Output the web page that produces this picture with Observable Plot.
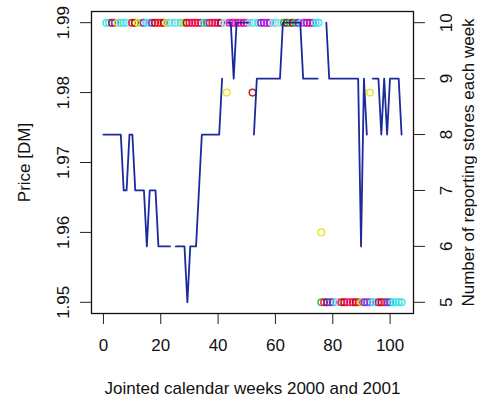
<!DOCTYPE html>
<html>
<head>
<meta charset="utf-8">
<script src="https://cdn.jsdelivr.net/npm/d3@7"></script>
<script src="https://cdn.jsdelivr.net/npm/@observablehq/plot@0.6"></script>
<style>
  html, body { margin: 0; padding: 0; background: #fff; }
  #wrap { position: relative; width: 477px; height: 401px; }
  #wrap svg { position: absolute; left: 0; top: 0; }
</style>
</head>
<body>
<div id="wrap"></div>
<script>
// ---------------- data ----------------
const weeks = d3.range(1, 105); // jointed calendar weeks 2000/2001

// price [DM] reported each week (all stores identical except outliers)
const prices = [
  1.99,1.99,1.99,1.99,1.99,1.99,1.99,1.99,1.99,1.99,
  1.99,1.99,1.99,1.99,1.99,1.99,1.99,1.99,1.99,1.99,
  1.99,1.99,1.99,1.99,1.99,1.99,1.99,1.99,1.99,1.99,
  1.99,1.99,1.99,1.99,1.99,1.99,1.99,1.99,1.99,1.99,
  1.99,1.99,1.99,1.99,1.99,1.99,1.99,1.99,1.99,1.99,
  1.99,1.99,1.99,1.99,1.99,1.99,1.99,1.99,1.99,1.99,
  1.99,1.99,1.99,1.99,1.99,1.99,1.99,1.99,1.99,1.99,
  1.99,1.99,1.99,1.99,1.99,
  1.95,1.95,1.95,1.95,1.95,1.95,1.95,1.95,1.95,1.95,
  1.95,1.95,1.95,1.95,1.95,1.95,1.95,1.95,1.95,1.95,
  1.95,1.95,1.95,1.95,1.95,1.95,1.95,1.95,1.95
];

// store whose marker ends up on top in each week (index into storeColors)
const topStore = [
  5,5,1,8,2,5,5,5,6,0, 1,2,3,8,5,5,8,1,0,0,
  1,2,5,6,5,6,5,3,1,0, 10,10,0,10,5,4,8,0,10,10,
  1,6,6,9,10,9,10,9,10,9, 6,5,6,5,8,8,9,8,6,5,
  6,6,4,1,4,1,4,8,5,9, 8,10,8,5,5,
  4,10,1,7,8,5,6,0,1,0, 9,0,1,0,3,8,7,9,5,5,
  10,1,0,8,7,5,5,5,5
];

const storeColors = [
  "#ff1a1a", "#a8101e", "#e8e820", "#a6e22a", "#2fc23a", "#3fe6ee",
  "#a9dde2", "#2a62f0", "#a222d2", "#e022e0", "#e8106e"
];

// deviating single reports
const outlierWeeks  = [43, 52, 76, 93];
const outlierPrices = [1.98, 1.98, 1.96, 1.98];
const outlierColors = ["#e8e820", "#c0262a", "#e8e820", "#e8e820"];

// number of reporting stores each week (null = no value)
const stores = [
  8,8,8,8,8,8,8,7,7,8,
  8,7,7,7,7,6,7,7,7,6,
  6,6,6,6,null,6,6,6,6,5,
  6,6,6,7,8,8,8,8,8,8,
  8,9,null,10,10,9,10,10,10,10,
  10,null,8,9,9,9,9,9,9,9,
  9,9,10,10,10,10,10,10,10,9,
  9,9,9,9,9,null,null,10,9,9,
  9,9,9,9,9,9,9,9,9,6,
  9,8,null,9,9,9,8,9,8,9,
  9,9,9,8
];

const xTicks = [0, 20, 40, 60, 80, 100];
const priceTicks = [1.95, 1.96, 1.97, 1.98, 1.99];
const storeTicks = [5, 6, 7, 8, 9, 10];

const xLabel = "Jointed calendar weeks 2000 and 2001";
const yLabel = "Price [DM]";
const y2Label = "Number of reporting stores each week";

// ---------------- layout ----------------
const W = 477, H = 401;
const M = {left: 91, right: 64, top: 11, bottom: 88};
const font = "'Liberation Sans', Arial, Helvetica, sans-serif";
const style = {fontFamily: font, fontSize: "17px", color: "#111", background: "transparent", overflow: "visible"};

const pointData = weeks.map((w, i) => ({week: w, price: prices[i], col: storeColors[topStore[i]]}))
  .concat(outlierWeeks.map((w, i) => ({week: w, price: outlierPrices[i], col: outlierColors[i]})));

const p1 = Plot.plot({
  width: W, height: H,
  marginLeft: M.left, marginRight: M.right, marginTop: M.top, marginBottom: M.bottom,
  style,
  x: {domain: [-4.16, 108.16]},
  y: {domain: [1.9484, 1.9916]},
  color: {type: "identity"},
  marks: [
    Plot.dot(pointData, {x: "week", y: "price", stroke: "col", r: 3.3, strokeWidth: 1.5}),
    Plot.axisX({ticks: xTicks, tickSize: 11, tickPadding: 14, label: null, stroke: "#222"}),
    Plot.axisY({ticks: priceTicks, tickFormat: d => d.toFixed(2), tickSize: 11, tickPadding: 12,
                tickRotate: -90, label: null, stroke: "#222"}),
    Plot.frame({stroke: "#111", strokeWidth: 1.3}),
    Plot.text([xLabel], {frameAnchor: "bottom", dy: 75, lineAnchor: "middle", textAnchor: "middle",
                         text: d => d, fill: "#111"}),
    Plot.text([yLabel], {frameAnchor: "left", dx: -67, rotate: -90, lineAnchor: "middle", textAnchor: "middle",
                         text: d => d, fill: "#111"})
  ]
});

const lineData = weeks.map((w, i) => ({week: w, n: stores[i]}));

const p2 = Plot.plot({
  width: W, height: H,
  marginLeft: M.left, marginRight: M.right, marginTop: M.top, marginBottom: M.bottom,
  style,
  x: {domain: [-3.12, 108.12], axis: null},
  y: {domain: [4.8, 10.2]},
  marks: [
    Plot.line(lineData, {x: "week", y: "n", stroke: "#1c2a9c", strokeWidth: 1.8}),
    Plot.axisY({anchor: "right", ticks: storeTicks, tickFormat: d => String(d), tickSize: 11, tickPadding: 27,
                tickRotate: -90, label: null, stroke: "#222"}),
    Plot.text([y2Label], {frameAnchor: "right", dx: 55, rotate: -90, lineAnchor: "middle", textAnchor: "middle",
                          text: d => d, fill: "#111"})
  ]
});

const wrap = document.getElementById("wrap");
wrap.appendChild(p1);
wrap.appendChild(p2);
</script>
</body>
</html>
